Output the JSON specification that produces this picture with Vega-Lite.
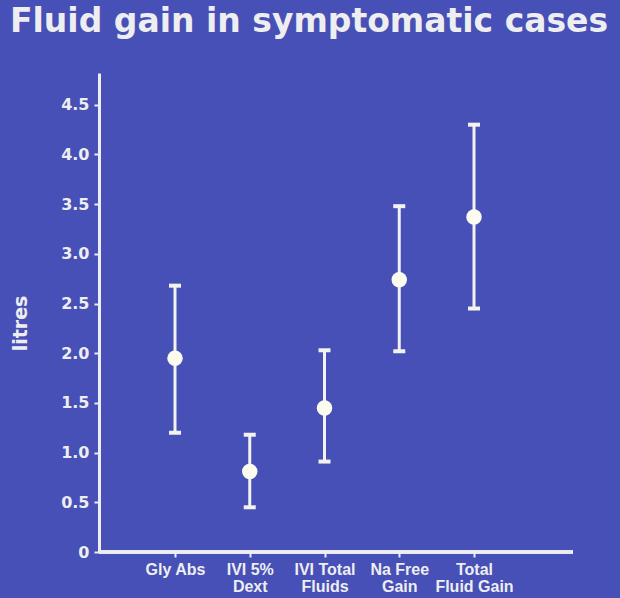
{
  "$schema": "https://vega.github.io/schema/vega-lite/v6.json",
  "width": 474,
  "height": 479,
  "autosize": {"type": "none"},
  "padding": {"left": 99, "top": 73, "right": 47, "bottom": 46},
  "background": "#4750b6",
  "config": {
    "view": {"stroke": null},
    "font": "Liberation Sans"
  },
  "title": {
    "text": "Fluid gain in symptomatic cases",
    "anchor": "start",
    "frame": "group",
    "dx": -89,
    "offset": 34,
    "font": "DejaVu Sans",
    "fontSize": 33,
    "fontWeight": "bold",
    "color": "#eeeef0"
  },
  "data": {
    "values": [
      {"measure": "Gly Abs", "mean": 1.95, "low": 1.2, "high": 2.68},
      {"measure": "IVI 5% Dext", "mean": 0.81, "low": 0.45, "high": 1.18},
      {"measure": "IVI Total Fluids", "mean": 1.45, "low": 0.91, "high": 2.03},
      {"measure": "Na Free Gain", "mean": 2.74, "low": 2.02, "high": 3.48},
      {"measure": "Total Fluid Gain", "mean": 3.37, "low": 2.45, "high": 4.3}
    ]
  },
  "encoding": {
    "x": {
      "field": "measure",
      "type": "nominal",
      "sort": null,
      "scale": {"type": "point", "range": [76, 375], "padding": 0},
      "axis": {
        "title": null,
        "domain": false,
        "labelAngle": 0,
        "labelExpr": "datum.label == 'Gly Abs' ? 'Gly Abs' : datum.label == 'IVI 5% Dext' ? ['IVI 5%', 'Dext'] : datum.label == 'IVI Total Fluids' ? ['IVI Total', 'Fluids'] : datum.label == 'Na Free Gain' ? ['Na Free', 'Gain'] : ['Total', 'Fluid Gain']",
        "labelColor": "#eeeef0",
        "labelFont": "Liberation Sans",
        "labelFontWeight": "bold",
        "labelFontSize": 16,
        "labelLineHeight": 17,
        "labelPadding": 4,
        "tickColor": "#eeeef0",
        "tickWidth": 2,
        "tickSize": 5
      }
    }
  },
  "layer": [
    {
      "mark": {"type": "rule", "color": "#f2f2ee", "strokeWidth": 3},
      "encoding": {
        "y": {
          "field": "low",
          "type": "quantitative",
          "scale": {"domain": [0, 4.82], "nice": false},
          "axis": {
            "title": "litres",
            "titleColor": "#eeeef0",
            "titleFont": "DejaVu Sans",
            "titleFontSize": 19,
            "titleFontWeight": "bold",
            "titleX": -79,
            "titleY": 250,
            "titleAngle": -90,
            "titleAlign": "center",
            "titleBaseline": "middle",
            "values": [0, 0.5, 1, 1.5, 2, 2.5, 3, 3.5, 4, 4.5],
            "labelExpr": "datum.value == 0 ? '0' : format(datum.value, '.1f')",
            "labelColor": "#eeeef0",
            "labelFont": "DejaVu Sans",
            "labelFontWeight": "bold",
            "labelFontSize": 16,
            "labelPadding": 5,
            "grid": false,
            "domainColor": "#eeeef0",
            "domainWidth": 3,
            "tickColor": "#eeeef0",
            "tickWidth": 2,
            "tickSize": 5
          }
        },
        "y2": {"field": "high"}
      }
    },
    {
      "mark": {"type": "tick", "color": "#f2f2ee", "size": 12, "thickness": 4, "opacity": 1},
      "encoding": {"y": {"field": "low", "type": "quantitative"}}
    },
    {
      "mark": {"type": "tick", "color": "#f2f2ee", "size": 12, "thickness": 4, "opacity": 1},
      "encoding": {"y": {"field": "high", "type": "quantitative"}}
    },
    {
      "mark": {"type": "circle", "color": "#fbfbf0", "size": 240, "opacity": 1},
      "encoding": {"y": {"field": "mean", "type": "quantitative"}}
    },
    {
      "mark": {"type": "rule", "color": "#eeeef0", "strokeWidth": 3},
      "encoding": {"y": {"datum": 0}, "x": {"value": 0}, "x2": {"value": 474}}
    }
  ]
}
